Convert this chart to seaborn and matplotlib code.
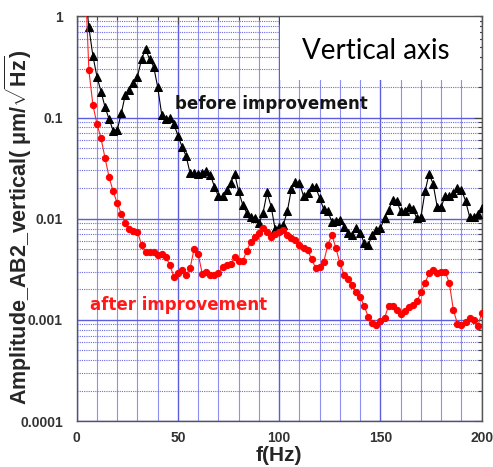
import numpy as np
import pandas as pd
import matplotlib
matplotlib.use("Agg")
import matplotlib.pyplot as plt
import matplotlib.ticker as mticker
from matplotlib.patches import Rectangle
import seaborn as sns

# Frequency grid of the spectrum (Hz), 2 Hz steps
freq = np.arange(4, 202, 2)

# Amplitude before the improvement (um/sqrt(Hz))
before = [
    2.0, 0.782, 0.407, 0.254, 0.181, 0.127, 0.0964, 0.0744, 0.0755, 0.110,
    0.168, 0.188, 0.219, 0.254, 0.378, 0.474, 0.378, 0.319, 0.200, 0.106,
    0.097, 0.0986, 0.0867, 0.0659, 0.0517, 0.0418, 0.0282, 0.0282, 0.0278, 0.0282,
    0.0297, 0.0272, 0.0208, 0.0166, 0.0166, 0.0193, 0.0225, 0.0278, 0.0186, 0.0137,
    0.0114, 0.0105, 0.0101, 0.00905, 0.0114, 0.0182, 0.0132, 0.00789, 0.00838, 0.00871,
    0.0118, 0.0196, 0.0233, 0.0225, 0.0168, 0.0179, 0.0208, 0.0205, 0.0160, 0.0124,
    0.0118, 0.00938, 0.00960, 0.00975, 0.00838, 0.00721, 0.00693, 0.00807, 0.00721, 0.00574,
    0.00552, 0.00693, 0.00777, 0.00807, 0.0101, 0.0122, 0.0154, 0.0151, 0.0118, 0.0118,
    0.0132, 0.0124, 0.0101, 0.0104, 0.0186, 0.0278, 0.0221, 0.0132, 0.0132, 0.0168,
    0.0168, 0.0179, 0.0200, 0.0193, 0.0151, 0.0105, 0.0104, 0.0112, 0.0127,
]

# Amplitude after the improvement (um/sqrt(Hz))
after = [
    3.0, 0.296, 0.133, 0.0867, 0.0625, 0.0397, 0.0258, 0.0186, 0.0143, 0.0112,
    0.00905, 0.00789, 0.00764, 0.00747, 0.00552, 0.00464, 0.00474, 0.00474, 0.00440, 0.00447,
    0.00423, 0.00345, 0.00268, 0.00290, 0.00313, 0.00279, 0.00325, 0.00504, 0.00447, 0.00284,
    0.00297, 0.00279, 0.00275, 0.00290, 0.00337, 0.00345, 0.00356, 0.00414, 0.00378, 0.00384,
    0.00482, 0.00595, 0.00667, 0.00721, 0.00807, 0.00738, 0.00667, 0.00705, 0.00738, 0.00777,
    0.00693, 0.00643, 0.00618, 0.00552, 0.00512, 0.00493, 0.00399, 0.00325, 0.00337, 0.00376,
    0.0055, 0.00693, 0.00512, 0.00364, 0.00279, 0.00253, 0.00222, 0.00187, 0.00169, 0.00136,
    0.00107, 0.00093, 0.000895, 0.000964, 0.00104, 0.00138, 0.00138, 0.00126, 0.00115, 0.00123,
    0.00134, 0.00141, 0.00152, 0.00187, 0.00231, 0.00290, 0.00313, 0.00290, 0.00298, 0.00298,
    0.00231, 0.00126, 0.000915, 0.000895, 0.000942, 0.00104, 0.00100, 0.00086, 0.00117,
]

ytick_values = [0.0001, 0.001, 0.01, 0.1, 1]
ytick_labels = ["0.0001", "0.001", "0.01", "0.1", "1"]
xtick_values = [0, 50, 100, 150, 200]

df = pd.DataFrame({"f": freq, "before": before, "after": after})

sns.set_style("white")
plt.rcParams["font.family"] = ["Liberation Sans", "DejaVu Sans"]
plt.rcParams["mathtext.fontset"] = "custom"
plt.rcParams["mathtext.rm"] = "Liberation Sans:bold"
plt.rcParams["mathtext.it"] = "Liberation Sans:bold"
plt.rcParams["mathtext.bf"] = "Liberation Sans:bold"

fig = plt.figure(figsize=(4.93, 4.67), dpi=100)
ax = fig.add_axes([0.1556, 0.0985, 0.8215, 0.8662])

ax.set_yscale("log")
ax.set_xlim(0, 200)
ax.set_ylim(0.0001, 1)

# grid: decades / 50 Hz solid, 10 Hz lighter, sub-decades dotted
ax.set_axisbelow(True)
ax.xaxis.set_major_locator(mticker.FixedLocator(xtick_values))
ax.xaxis.set_minor_locator(mticker.MultipleLocator(10))
ax.yaxis.set_major_locator(mticker.FixedLocator(ytick_values))
ax.yaxis.set_major_formatter(mticker.FixedFormatter(ytick_labels))
ax.yaxis.set_minor_locator(mticker.LogLocator(base=10, subs=np.arange(2, 10)))
ax.yaxis.set_minor_formatter(mticker.NullFormatter())

ax.xaxis.grid(True, which="major", color="#5c5ce0", lw=1.0, ls="-")
ax.xaxis.grid(True, which="minor", color="#8f8ff0", lw=0.8, ls="-")
ax.yaxis.grid(True, which="major", color="#5c5ce0", lw=1.0, ls="-")
ax.yaxis.grid(True, which="minor", color="#6a6ae8", lw=0.8, ls=(0, (1, 1)))

# white panel for the caption in the upper right
ax.add_patch(Rectangle((0.502, 0.843), 0.493, 0.157, transform=ax.transAxes,
                       facecolor="white", edgecolor="none", zorder=0.8))
ax.text(0.738, 0.914, "Vertical axis", transform=ax.transAxes, fontsize=20,
        family="Lato", ha="center", va="center", color="black", zorder=3)

sns.lineplot(data=df, x="f", y="before", ax=ax, color="black", lw=0.8,
             marker="^", markersize=5.5, markeredgecolor="black",
             markerfacecolor="black", sort=False, zorder=3)
sns.lineplot(data=df, x="f", y="after", ax=ax, color="#ff2020", lw=0.8,
             marker="o", markersize=4.5, markeredgecolor="#ff0000",
             markerfacecolor="#ff0000", sort=False, zorder=3)

ax.text(48.5, 0.135, "before improvement", fontsize=12, fontweight="bold",
        family="DejaVu Sans", color="#151515", ha="left", va="center", zorder=4)
ax.text(6.6, 0.00141, "after improvement", fontsize=12, fontweight="bold",
        family="DejaVu Sans", color="#ff1a1a", ha="left", va="center", zorder=4)

ax.tick_params(axis="both", which="both", direction="in", top=True, right=True,
               colors="#444444", labelcolor="#333333")
ax.tick_params(axis="both", which="major", length=6, width=0.8, labelsize=10)
ax.tick_params(axis="both", which="minor", length=3, width=0.8)
ax.tick_params(axis="y", which="major", pad=10)
ax.tick_params(axis="x", which="major", pad=7)
for lab in ax.get_xticklabels() + ax.get_yticklabels():
    lab.set_fontweight("bold")

for s in ax.spines.values():
    s.set_color("#555555")
    s.set_linewidth(1.0)

ax.set_xlabel("f(Hz)", fontsize=15, fontweight="bold")
ax.set_ylabel("Amplitude_AB2_vertical( $\\mu$m/$\\sqrt{\\mathrm{Hz}}$)",
              fontsize=15.5, fontweight="bold")
ax.xaxis.set_label_coords(0.5, -0.062)
ax.yaxis.set_label_coords(-0.105, 0.478)
ax.xaxis.label.set_va("top")

fig.savefig("out.png", dpi=100)
